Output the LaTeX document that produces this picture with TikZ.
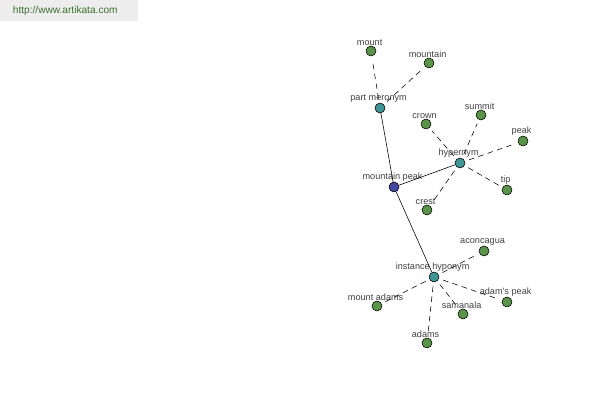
\documentclass[tikz,border=0pt]{standalone}
\usepackage{fontspec}
\setmainfont{Liberation Sans}
\definecolor{leafgreen}{HTML}{5A9448}
\definecolor{hubteal}{HTML}{3F9494}
\definecolor{rootblue}{HTML}{4646A0}
\definecolor{urlgreen}{HTML}{3C6E2E}

\begin{document}
\begin{tikzpicture}[
		x=0.025cm, y=-0.025cm,
		every label/.style={font=\fontsize{6.5}{7}\selectfont,inner sep=0pt,text=black!75,xshift=-1pt},
		pt/.style={circle,draw=black,thin,minimum size=10*0.025cm,inner sep=0pt,label distance=1pt},
		leaf/.style={pt,fill=leafgreen},
		hub/.style={pt,fill=hubteal},
		root/.style={pt,fill=rootblue},
		rel/.style={draw=black,thin,dash pattern=on 4pt off 3pt,shorten <=3pt,shorten >=3pt}
	]
		\useasboundingbox (0,0) rectangle (600,400);
		\fill[black!7] (0,0) rectangle (138,21);
		\node[font=\fontsize{7.2}{8}\selectfont,text=urlgreen,anchor=west] (url) at (8,11) {http://www.artikata.com};

		% centre and the three relations
		\node[root, label=above:{mountain peak}] (mpeak) at (394,187) {};
		\node[hub, label=above:{part meronym}] (mero) at (380,108) {};
		\node[hub, label=above:{hypernym}] (hyper) at (460,163) {};
		\node[hub, label=above:{instance hyponym}] (hypo) at (434,277) {};

		% words
		\node[leaf, label=above:{mount}] (mount) at (371,51) {};
		\node[leaf, label=above:{mountain}] (mountain) at (429,63) {};
		\node[leaf, label=above:{crown}] (crown) at (426,124) {};
		\node[leaf, label=above:{summit}] (summit) at (481,115) {};
		\node[leaf, label=above:{peak}] (peak) at (523,141) {};
		\node[leaf, label=above:{tip}] (tip) at (507,190) {};
		\node[leaf, label=above:{crest}] (crest) at (427,210) {};
		\node[leaf, label=above:{aconcagua}] (aconc) at (484,251) {};
		\node[leaf, label=above:{adam's peak}] (adpeak) at (507,302) {};
		\node[leaf, label=above:{samanala}] (saman) at (463,314) {};
		\node[leaf, label=above:{mount adams}] (madams) at (377,306) {};
		\node[leaf, label=above:{adams}] (adams) at (427,343) {};

		\draw[thin] (mpeak) -- (mero);
		\draw[thin] (mpeak) -- (hyper);
		\draw[thin] (mpeak) -- (hypo);
		\foreach \w in {mount,mountain}
			\draw[rel] (mero) -- (\w);
		\foreach \w in {crown,summit,peak,tip,crest}
			\draw[rel] (hyper) -- (\w);
		\foreach \w in {aconc,adpeak,saman,madams,adams}
			\draw[rel] (hypo) -- (\w);
	\end{tikzpicture}
\end{document}
